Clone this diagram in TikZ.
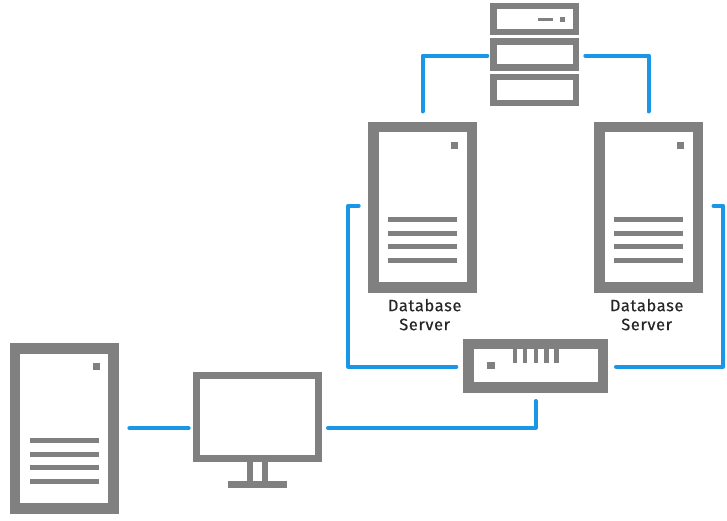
\documentclass[tikz,border=0pt]{standalone}
\usepackage{fontspec}
\setsansfont[LetterSpace=4,FakeBold=0.4]{Fira Sans}
\usepackage{xcolor}
\definecolor{iconfg}{HTML}{808080}
\definecolor{linkbl}{HTML}{1A96E6}
\definecolor{labelfg}{HTML}{262626}
\usepackage{tikz}
\usetikzlibrary{positioning}

\begin{document}
\begin{tikzpicture}[x=1pt,y=1pt,
  towercase/.style={draw=iconfg,line width=10.5pt,minimum width=98.8pt,minimum height=160.2pt,inner sep=0pt},
  rackcase/.style={draw=iconfg,line width=6.5pt,minimum width=82.5pt,minimum height=26pt,inner sep=0pt},
  switchcase/.style={draw=iconfg,line width=10.5pt,minimum width=134.2pt,minimum height=43.5pt,inner sep=0pt},
  screencase/.style={draw=iconfg,line width=7pt,minimum width=122.6pt,minimum height=82.7pt,inner sep=0pt},
  dblabel/.style={font=\sffamily\fontsize{16.4}{19}\selectfont,text=labelfg,align=center,inner sep=0pt},
  link/.style={draw=linkbl,line width=4pt,line cap=round,line join=round}]
\useasboundingbox (0,0) rectangle (727,-521);
\node[rackcase] (rackb) at (534.8,-54.75) {};
\node[rackcase,above=3pt of rackb] (racka) {};
\node[rackcase,below=3pt of rackb] (rackc) {};
\node[towercase] (dbl) at (422.65,-207.35) {};
\node[towercase,right=116.7pt of dbl] (dbr) {};
\node[towercase] (app) at (64.25,-428.35) {};
\node[switchcase] (switch) at (535.65,-365.7) {};
\node[screencase] (monitor) at (257.5,-416.85) {};
\node[dblabel,below=6pt of dbl,xshift=2pt] (dbllabel) {Database\\Server};
\node[dblabel,below=6pt of dbr,xshift=-2pt] (dbrlabel) {Database\\Server};
\foreach \srv in {dbl,dbr,app}{
  \fill[iconfg] ([shift={(28.3,65.7)}]\srv.center) rectangle ++(7.2,-7);
  \foreach \yy in {12.2,25.7,39.2,52.7}
    \fill[iconfg] ([shift={(-34.5,-\yy+2.5)}]\srv.center) rectangle ++(69,-5);
}
\fill[iconfg] ([shift={(3.2,1.5)}]racka.center) rectangle ++(15,-3);
\fill[iconfg] ([shift={(25.2,2.3)}]racka.center) rectangle ++(5,-4.6);
\fill[iconfg] ([shift={(-48.3,3.7)}]switch.center) rectangle ++(7.4,-7.4);
\foreach \xx in {-20.6,-10.6,0.2,10.9,21}
  \fill[iconfg] ([shift={(\xx-2.2,16.7)}]switch.center) rectangle ++(4.4,-14.3);
\fill[iconfg] ([xshift=-10.5pt]monitor.south) rectangle ++(6.3,-19.3);
\fill[iconfg] ([xshift=4.2pt]monitor.south) rectangle ++(6.6,-19.3);
\fill[iconfg] ([shift={(-29.8,-19.3)}]monitor.south) rectangle ++(59.6,-7.3);
\draw[link,shorten <=3pt,shorten >=10.5pt] ([yshift=-1pt]rackb.west) -| (dbl.north);
\draw[link,shorten <=6pt,shorten >=10.5pt] ([yshift=-1pt]rackb.east) -| (dbr.north);
\draw[link,shorten <=9.3pt,shorten >=7pt] ([yshift=1.5pt]dbl.west) -- ++(-19.7,0) |- ([yshift=-1pt]switch.west);
\draw[link,shorten <=10.2pt,shorten >=8pt] ([yshift=1.5pt]dbr.east) -- ++(19.8,0) |- ([yshift=-1pt]switch.east);
\draw[link,shorten <=8.3pt,shorten >=5.7pt] (switch.south) |- ([yshift=-11pt]monitor.east);
\draw[link,shorten <=10.5pt,shorten >=4pt] (app.east) -- (app.east -| monitor.west);
\end{tikzpicture}
\end{document}
